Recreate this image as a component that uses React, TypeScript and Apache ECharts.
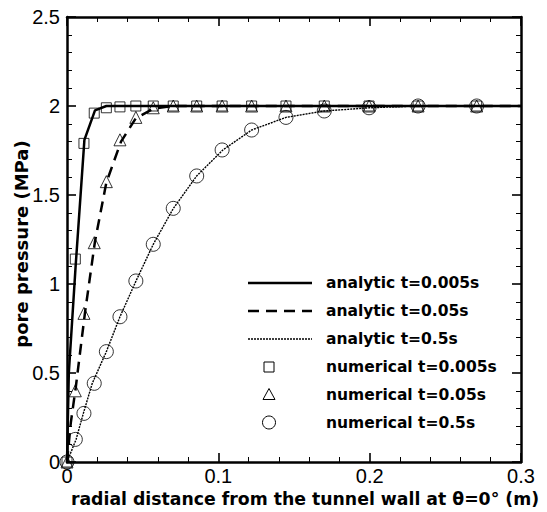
import React, { useEffect, useRef } from "react";
import * as echarts from "echarts";

// Numerical nodes (radial distance, m)
const nodeX = [0, 0.0055, 0.0112, 0.018, 0.026, 0.035, 0.0455, 0.057, 0.0702, 0.0857, 0.1025, 0.122, 0.1447, 0.17, 0.1996, 0.232, 0.2707];
// Numerical pore pressure (MPa)
const numT0005 = [0, 1.14, 1.79, 1.96, 1.99, 1.995, 2.0, 2.0, 2.0, 2.0, 2.0, 2.0, 2.0, 2.0, 2.0, 2.0, 2.0];
const numT005 = [0, 0.4, 0.835, 1.232, 1.575, 1.81, 1.936, 1.99, 2.0, 2.0, 2.0, 2.0, 2.0, 2.0, 2.0, 2.0, 2.0];
const numT05 = [0, 0.127, 0.273, 0.442, 0.62, 0.816, 1.017, 1.223, 1.425, 1.607, 1.753, 1.865, 1.936, 1.972, 1.99, 2.0, 2.0];

// Analytic curves
const anaT0005X = [0, 0.0012, 0.0057, 0.0115, 0.0185, 0.026, 0.3];
const anaT0005Y = [0, 0.5, 1.1, 1.81, 1.975, 2.0, 2.0];
const anaT005X = [0, 0.0025, 0.0058, 0.0119, 0.0185, 0.026, 0.0357, 0.0454, 0.057, 0.07, 0.3];
const anaT005Y = [0, 0.22, 0.42, 0.84, 1.24, 1.57, 1.8, 1.93, 1.985, 2.0, 2.0];
const anaT05X = [0, 0.006, 0.0108, 0.0167, 0.026, 0.035, 0.0456, 0.057, 0.0703, 0.0857, 0.103, 0.122, 0.1447, 0.17, 0.2, 0.232, 0.27, 0.3];
const anaT05Y = [0, 0.127, 0.273, 0.442, 0.62, 0.816, 1.017, 1.223, 1.425, 1.607, 1.753, 1.865, 1.936, 1.972, 1.99, 2.0, 2.0, 2.0];

const seriesNames = [
  "analytic t=0.005s",
  "analytic t=0.05s",
  "analytic t=0.5s",
  "numerical t=0.005s",
  "numerical t=0.05s",
  "numerical t=0.5s",
];
const xAxisTitle = "radial distance from the tunnel wall at θ=0° (m)";
const yAxisTitle = "pore pressure (MPa)";

const pair = (xs: number[], ys: number[]) => xs.map((x, i) => [x, ys[i]]);

const BOLD = '"DejaVu Sans", "Liberation Sans", sans-serif';
const REG = '"Liberation Sans", Arial, sans-serif';

function axisCommon(showLabel: boolean) {
  return {
    type: "value" as const,
    axisLine: { show: true, onZero: false, lineStyle: { color: "#000", width: 2.5 } },
    axisTick: { show: true, inside: true, length: 9, lineStyle: { color: "#000", width: 1.6 } },
    minorTick: { show: true, splitNumber: 5, length: 5, lineStyle: { color: "#000", width: 1 } },
    splitLine: { show: false },
    minorSplitLine: { show: false },
    axisLabel: showLabel
      ? { show: true, color: "#000", fontSize: 20, fontFamily: REG }
      : { show: false },
  };
}

export default function App() {
  const ref = useRef<HTMLDivElement>(null);
  useEffect(() => {
    if (!ref.current) return;
    const chart = echarts.init(ref.current, undefined, { renderer: "svg" });
    const legendRows = [283, 311, 339, 367, 394.5, 422.5];
    const lx1 = 248, lx2 = 312, mx = 269, tx = 326;
    const legendGraphics: any[] = [
      { type: "line", shape: { x1: lx1, y1: legendRows[0], x2: lx2, y2: legendRows[0] }, style: { stroke: "#000", lineWidth: 2.5 } },
      { type: "line", shape: { x1: lx1, y1: legendRows[1], x2: lx2, y2: legendRows[1] }, style: { stroke: "#000", lineWidth: 2.5, lineDash: [11, 7] } },
      { type: "line", shape: { x1: lx1, y1: legendRows[2], x2: lx2, y2: legendRows[2] }, style: { stroke: "#000", lineWidth: 1.4, lineDash: [2, 1] } },
      { type: "rect", shape: { x: mx - 5, y: legendRows[3] - 5, width: 10, height: 10 }, style: { stroke: "#000", fill: "none", lineWidth: 1 } },
      { type: "polygon", shape: { points: [[mx, legendRows[4] - 6], [mx + 6, legendRows[4] + 5], [mx - 6, legendRows[4] + 5]] }, style: { stroke: "#000", fill: "none", lineWidth: 1 } },
      { type: "circle", shape: { cx: mx, cy: legendRows[5], r: 6.5 }, style: { stroke: "#000", fill: "none", lineWidth: 1 } },
    ];
    seriesNames.forEach((name, i) => {
      legendGraphics.push({
        type: "text",
        x: tx,
        y: legendRows[i],
        style: {
          text: name,
          font: `bold 15.5px ${BOLD}`,
          fill: "#000",
          align: "left",
          textAlign: "left",
          verticalAlign: "middle",
          textVerticalAlign: "middle",
        },
      });
    });
    legendGraphics.push({
      type: "text",
      x: 305,
      y: 499,
      style: {
        text: xAxisTitle,
        font: `bold 17.3px ${BOLD}`,
        fill: "#000",
        align: "center",
        textAlign: "center",
        verticalAlign: "middle",
        textVerticalAlign: "middle",
      },
    });
    legendGraphics.push({
      type: "text",
      x: 21,
      y: 244,
      rotation: Math.PI / 2,
      style: {
        text: yAxisTitle,
        font: `bold 18px ${BOLD}`,
        fill: "#000",
        align: "center",
        textAlign: "center",
        verticalAlign: "middle",
        textVerticalAlign: "middle",
      },
    });

    const option: any = {
      animation: false,
      backgroundColor: "#fff",
      grid: { left: 67, right: 26, top: 17, bottom: 50, containLabel: false },
      xAxis: [
        { ...axisCommon(true), min: 0, max: 0.3, interval: 0.1, position: "bottom", axisLabel: { show: true, color: "#000", fontSize: 20, fontFamily: REG, margin: 4 } },
        { ...axisCommon(false), min: 0, max: 0.3, interval: 0.1, position: "top" },
      ],
      yAxis: [
        { ...axisCommon(true), min: 0, max: 2.5, interval: 0.5, position: "left", axisLabel: { show: true, color: "#000", fontSize: 20, fontFamily: REG, margin: 7 } },
        { ...axisCommon(false), min: 0, max: 2.5, interval: 0.5, position: "right" },
      ],
      series: [
        {
          name: seriesNames[0], type: "line", data: pair(anaT0005X, anaT0005Y), symbol: "none", showSymbol: false,
          lineStyle: { color: "#000", width: 2.5, type: "solid" }, xAxisIndex: 0, yAxisIndex: 0,
        },
        {
          name: seriesNames[1], type: "line", data: pair(anaT005X, anaT005Y), symbol: "none", showSymbol: false,
          lineStyle: { color: "#000", width: 2.5, type: [11, 7] }, xAxisIndex: 0, yAxisIndex: 0,
        },
        {
          name: seriesNames[2], type: "line", data: pair(anaT05X, anaT05Y), symbol: "none", showSymbol: false,
          lineStyle: { color: "#000", width: 1.4, type: [2, 1] }, xAxisIndex: 0, yAxisIndex: 0,
        },
        {
          name: seriesNames[3], type: "scatter", data: pair(nodeX, numT0005), symbol: "rect", symbolSize: 10,
          itemStyle: { color: "rgba(0,0,0,0)", borderColor: "#000", borderWidth: 1 }, xAxisIndex: 0, yAxisIndex: 0,
        },
        {
          name: seriesNames[4], type: "scatter", data: pair(nodeX, numT005), symbol: "triangle", symbolSize: 12,
          itemStyle: { color: "rgba(0,0,0,0)", borderColor: "#000", borderWidth: 1 }, xAxisIndex: 0, yAxisIndex: 0,
        },
        {
          name: seriesNames[5], type: "scatter", data: pair(nodeX, numT05), symbol: "circle", symbolSize: 14,
          itemStyle: { color: "rgba(0,0,0,0)", borderColor: "#000", borderWidth: 1 }, xAxisIndex: 0, yAxisIndex: 0,
        },
      ],
      graphic: legendGraphics,
    };
    chart.setOption(option);
    return () => chart.dispose();
  }, []);
  return (
    <div
      ref={ref}
      style={{ position: "fixed", left: 0, top: 0, width: 547, height: 512, background: "#fff" }}
    />
  );
}
